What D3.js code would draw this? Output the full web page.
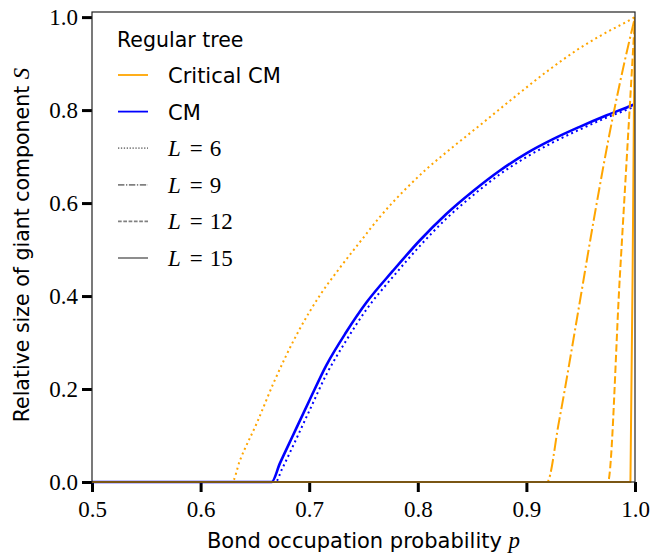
<!DOCTYPE html>
<html>
<head>
<meta charset="utf-8">
<script src="https://cdn.jsdelivr.net/npm/d3@7"></script>
<style>
  body { margin: 0; background: #fff; }
  svg text { fill: #000; }
</style>
</head>
<body>
<div id="chart"></div>
<script>
// values: p (bond occupation) -> S (giant component)
var xTicks = [0.5, 0.6, 0.7, 0.8, 0.9, 1.0];
var yTicks = [0.0, 0.2, 0.4, 0.6, 0.8, 1.0];

// CM, L = 15 (L = 9, 12 lie on top of it)
var cmP = [0.5, 0.6654, 0.673, 0.685, 0.7007, 0.716, 0.734, 0.753, 0.777, 0.802, 0.826, 0.851, 0.875, 0.900, 0.924, 0.949, 0.974, 0.998, 1.0];
var cmS = [0, 0, 0.040, 0.100, 0.178, 0.252, 0.322, 0.387, 0.454, 0.520, 0.576, 0.626, 0.669, 0.707, 0.737, 0.764, 0.789, 0.811, 0.813];

// CM, L = 6
var cm6P = [0.5, 0.669, 0.675, 0.686, 0.7007, 0.716, 0.734, 0.753, 0.777, 0.802, 0.826, 0.851, 0.875, 0.900, 0.924, 0.949, 0.974, 0.998, 1.0];
var cm6S = [0, 0, 0.028, 0.082, 0.156, 0.232, 0.304, 0.372, 0.441, 0.508, 0.566, 0.617, 0.661, 0.699, 0.730, 0.758, 0.784, 0.806, 0.808];

// Critical CM, L = 6
var crit6P = [0.5, 0.629, 0.636, 0.652, 0.667, 0.691, 0.71, 0.728, 0.747, 0.765, 0.787, 0.808, 0.833, 0.857, 0.888, 0.92, 0.949, 0.9675, 0.993, 1.0];
var crit6S = [0, 0, 0.045, 0.128, 0.212, 0.328, 0.402, 0.460, 0.517, 0.570, 0.626, 0.673, 0.722, 0.767, 0.826, 0.885, 0.933, 0.959, 0.991, 1.0];

// Critical CM, L = 9
var crit9P = [0.5, 0.919, 0.93, 0.949, 0.961, 0.98, 0.99, 1.0];
var crit9S = [0, 0, 0.13, 0.385, 0.55, 0.79, 0.90, 1.0];

// Critical CM, L = 12
var crit12P = [0.5, 0.975, 0.986, 0.993, 1.0];
var crit12S = [0, 0, 0.44, 0.72, 1.0];

// Critical CM, L = 15
var crit15P = [0.5, 0.9958, 0.999, 1.0];
var crit15S = [0, 0, 0.8, 1.0];

var legendLabels = ["Critical CM", "CM", "6", "9", "12", "15"];

var W = 653, H = 556;
var margin = {top: 12, right: 18, bottom: 74, left: 92},
    width = W - margin.left - margin.right,
    height = H - margin.top - margin.bottom;

var svg = d3.select("#chart").append("svg")
  .attr("width", W)
  .attr("height", H);

var chart = svg.append("g")
  .attr("transform", "translate(" + margin.left + "," + margin.top + ")");

var x = d3.scaleLinear().domain([0.5, 1.0]).range([0, width]);
var y = d3.scaleLinear().domain([0, 1.011]).range([height, 0]);

var serif = "'Liberation Serif', 'DejaVu Serif', serif";
var sans = "'DejaVu Sans', 'Noto Sans', sans-serif";

// axes
var xAxis = chart.append("g")
  .attr("transform", "translate(0," + height + ")")
  .call(d3.axisBottom(x).tickValues(xTicks).tickFormat(d3.format(".1f")).tickSize(10).tickPadding(7));
var yAxis = chart.append("g")
  .call(d3.axisLeft(y).tickValues(yTicks).tickFormat(d3.format(".1f")).tickSize(10).tickPadding(4));

[xAxis, yAxis].forEach(a => {
  a.select(".domain").remove();
  a.selectAll(".tick line").attr("stroke", "#000").attr("stroke-width", 3);
  a.selectAll(".tick text").style("font-family", serif).style("font-size", "23px");
});
xAxis.selectAll(".tick text").attr("dy", "0.8em");

// curves
var line = d3.line()
  .x(d => x(d[0]))
  .y(d => y(d[1]))
  .curve(d3.curveMonotoneX);

function series(ps, ss) { return ps.map((p, i) => [p, ss[i]]); }

var orange = "#ffa500", blue = "#0000ff";

var curves = [
  {data: series(cm6P, cm6S), color: blue, dash: "2,3.3", w: 2},
  {data: series(cmP, cmS), color: blue, dash: null, w: 2.6},
  {data: series(crit6P, crit6S), color: orange, dash: "2,3.3", w: 2},
  {data: series(crit9P, crit9S), color: orange, dash: "12.8,3.2,2,3.2", w: 2},
  {data: series(crit12P, crit12S), color: orange, dash: "7.4,3.2", w: 2},
  {data: series(crit15P, crit15S), color: orange, dash: null, w: 2}
];

var plot = chart.append("g");
plot.append("clipPath").attr("id", "clip")
  .append("rect").attr("x", -2).attr("y", 0).attr("width", width + 2).attr("height", height + 2);

curves.forEach(c => {
  plot.append("path")
    .datum(c.data)
    .attr("clip-path", "url(#clip)")
    .attr("fill", "none")
    .attr("stroke", c.color)
    .attr("stroke-width", c.w)
    .attr("stroke-dasharray", c.dash)
    .attr("d", line);
});

// frame
chart.append("rect")
  .attr("width", width)
  .attr("height", height)
  .attr("fill", "none")
  .attr("stroke", "#222")
  .attr("stroke-width", 1.2);

// legend
var leg = chart.append("g").attr("transform", "translate(25,0)");
leg.append("text")
  .attr("x", 0).attr("y", 35)
  .style("font-family", sans).style("font-size", "20.5px")
  .text("Regular tree");

var handles = [
  {color: orange, dash: null},
  {color: blue, dash: null},
  {color: "#808080", dash: "1.3,1.6"},
  {color: "#808080", dash: "6.4,1.6,1.3,1.6"},
  {color: "#808080", dash: "3.7,1.6"},
  {color: "#808080", dash: null}
];

legendLabels.forEach((lab, i) => {
  var yy = 63 + i * 36.6;
  leg.append("line")
    .attr("x1", 1).attr("x2", 31).attr("y1", yy).attr("y2", yy)
    .attr("stroke", handles[i].color)
    .attr("stroke-width", 1.8)
    .attr("stroke-dasharray", handles[i].dash);
  var t = leg.append("text").attr("x", 51).attr("y", yy + 8);
  if (i < 2) {
    t.style("font-family", sans).style("font-size", "21px").text(lab);
  } else {
    t.style("font-family", serif).style("font-size", "23px");
    t.append("tspan").style("font-style", "italic").text("L");
    t.append("tspan").attr("dx", 9).text("=");
    t.append("tspan").attr("dx", 7).text(lab);
  }
});

// axis labels
var xl = svg.append("text")
  .attr("x", margin.left + width / 2)
  .attr("y", 548)
  .attr("text-anchor", "middle")
  .style("font-family", sans).style("font-size", "21px");
xl.append("tspan").text("Bond occupation probability ");
xl.append("tspan").style("font-family", serif).style("font-style", "italic").style("font-size", "23px").text("p");

var yl = svg.append("text")
  .attr("transform", "translate(29," + (margin.top + height / 2 - 2) + ") rotate(-90)")
  .attr("text-anchor", "middle")
  .style("font-family", sans).style("font-size", "20.5px");
yl.append("tspan").text("Relative size of giant component ");
yl.append("tspan").style("font-family", serif).style("font-style", "italic").style("font-size", "23px").text("S");
</script>
</body>
</html>
